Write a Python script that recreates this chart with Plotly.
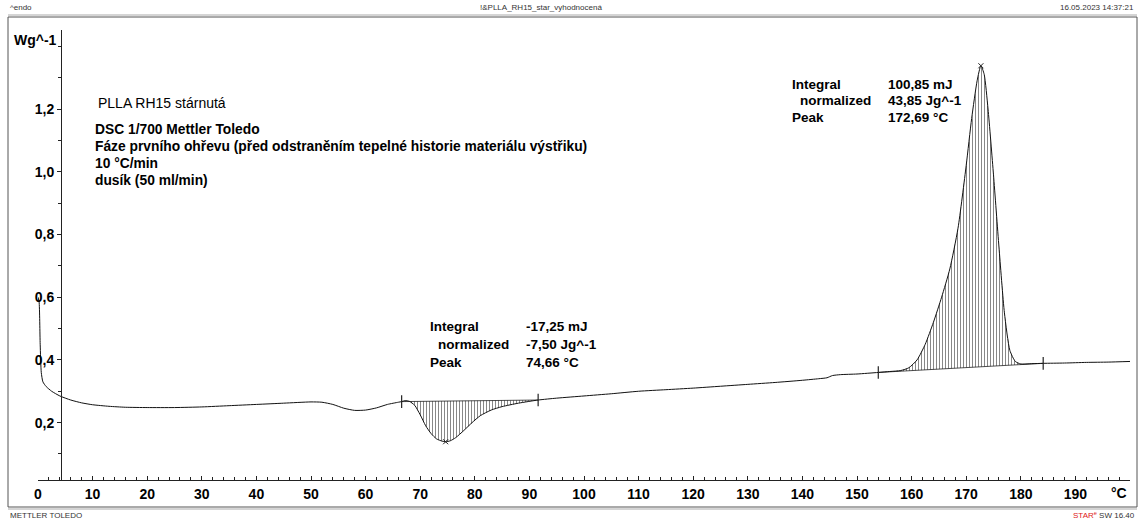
import numpy as np
import plotly.graph_objects as go

# ---------------- data ----------------
temp = [0.0, 0.2, 0.4, 0.6, 0.9, 1.5, 2.5, 4.0, 6.0, 8.0, 10.0, 13.0, 16.0, 20.0, 25.0,
        30.0, 35.0, 40.0, 45.0, 50.0, 52.0, 54.0, 56.0, 58.0, 60.0, 62.0, 64.0, 66.0,
        66.6, 67.2, 68.0, 69.0, 70.0, 71.0, 72.0, 73.0, 74.0, 74.66, 75.5, 76.5, 78.0,
        79.5, 81.0, 83.0, 85.0, 88.0, 91.6, 95.0, 100.0, 105.0, 110.0, 115.0, 120.0,
        125.0, 130.0, 135.0, 140.0, 143.0, 144.5, 145.5, 147.0, 150.0, 153.9, 156.0,
        158.0, 159.5, 161.0, 162.5, 164.0, 165.5, 167.0, 168.5, 170.0, 171.0, 172.0,
        172.69, 173.3, 174.0, 175.0, 176.0, 177.0, 178.0, 179.0, 180.0, 182.0, 184.1,
        188.0, 192.0, 196.0, 200.0]
heat = [0.600, 0.585, 0.450, 0.360, 0.330, 0.315, 0.300, 0.285, 0.272, 0.263, 0.257,
        0.252, 0.249, 0.248, 0.248, 0.250, 0.254, 0.258, 0.262, 0.266, 0.265, 0.258,
        0.246, 0.239, 0.240, 0.247, 0.258, 0.265, 0.267, 0.270, 0.268, 0.255, 0.225,
        0.190, 0.165, 0.148, 0.141, 0.139, 0.142, 0.152, 0.175, 0.200, 0.222, 0.240,
        0.251, 0.262, 0.272, 0.278, 0.285, 0.292, 0.300, 0.305, 0.310, 0.316, 0.322,
        0.328, 0.335, 0.340, 0.343, 0.350, 0.353, 0.355, 0.360, 0.363, 0.366, 0.375,
        0.400, 0.450, 0.520, 0.600, 0.690, 0.820, 1.020, 1.170, 1.290, 1.338, 1.310,
        1.200, 0.990, 0.760, 0.550, 0.430, 0.395, 0.387, 0.388, 0.389, 0.390, 0.392,
        0.393, 0.395]

base1_x = [66.6, 91.6]
base1_y = [0.267, 0.272]
base2_x = [153.9, 184.1]
base2_y = [0.360, 0.389]
peak_x = [74.66, 172.69]
peak_y = [0.139, 1.338]

x_ticks = list(range(0, 200, 10))
y_ticks = [0.2, 0.4, 0.6, 0.8, 1.0, 1.2]
y_ticktext = ["0,2", "0,4", "0,6", "0,8", "1,0", "1,2"]

info_lines = ["DSC 1/700 Mettler Toledo",
              "Fáze prvního ohřevu (před odstraněním tepelné historie materiálu výstřiku)",
              "10 °C/min",
              "dusík (50 ml/min)"]
peak1_labels = ["Integral", "normalized", "Peak"]
peak1_values = ["-17,25 mJ", "-7,50 Jg^-1", "74,66 °C"]
peak2_values = ["100,85 mJ", "43,85 Jg^-1", "172,69 °C"]

# ---------------- layout geometry ----------------
W, H = 1143, 522
L, R, T, B = 38, 13, 30, 42
PW, PH = W - L - R, H - T - B
FONT = "Liberation Sans, Arial, sans-serif"


def px(x):
    return (x - L) / PW


def py(y):
    return (H - B - y) / PH


t = np.array(temp)
h = np.array(heat)

fig = go.Figure()

# hatched areas (baseline first, then curve segment filled to it)
for bx, by in ((base1_x, base1_y), (base2_x, base2_y)):
    m = (t >= bx[0]) & (t <= bx[1])
    fig.add_trace(go.Scatter(x=bx, y=by, mode="lines",
                             line=dict(color="#222", width=0.8), hoverinfo="skip"))
    fig.add_trace(go.Scatter(x=t[m], y=h[m], mode="lines", fill="tonexty",
                             line=dict(color="rgba(0,0,0,0)", width=0),
                             fillcolor="rgba(0,0,0,0)",
                             fillpattern=dict(shape="|", size=3, solidity=0.35,
                                              fgcolor="#111", bgcolor="rgba(0,0,0,0)"),
                             hoverinfo="skip"))

# main curve
fig.add_trace(go.Scatter(x=temp, y=heat, mode="lines",
                         line=dict(color="#111", width=1, shape="spline", smoothing=0.6)))

# baseline limit markers
fig.add_trace(go.Scatter(x=base1_x + base2_x, y=base1_y + base2_y, mode="markers",
                         marker=dict(symbol="line-ns-open", size=9, color="#222",
                                     line=dict(color="#222", width=1.2))))
# peak markers
fig.add_trace(go.Scatter(x=peak_x, y=peak_y, mode="markers",
                         marker=dict(symbol="x-thin-open", size=5, color="#222",
                                     line=dict(color="#222", width=1))))

ann = []


def text(x, y, s, size=13, bold=True, anchor="left", color="#000"):
    ann.append(dict(x=px(x), y=py(y), xref="paper", yref="paper", text=f"<b>{s}</b>" if bold else s,
                    showarrow=False, xanchor=anchor, yanchor="middle",
                    font=dict(family=FONT, size=size, color=color)))


# header / footer
text(8, 8, "^endo", size=8, bold=False, color="#333")
text(541, 8, "!&PLLA_RH15_star_vyhodnocená", size=8, bold=False, anchor="center", color="#333")
text(1136, 8, "16.05.2023 14:37:21", size=8, bold=False, anchor="right", color="#333")
text(8, 515, "METTLER TOLEDO", size=8, bold=False, color="#333")
text(1137, 515, '<span style="color:#e02020">STAR</span><sup><span style="color:#e02020">e</span></sup> SW 16.40',
     size=8, bold=False, anchor="right", color="#333")

# unit labels
text(12, 40, "Wg^-1", size=14)
text(1129, 493, "°C", size=14, anchor="right")

# info block
text(96, 103, "PLLA RH15 stárnutá", size=14, bold=False, color="#000")
for i, s in enumerate(info_lines):
    text(93, 129 + i * 17, s, size=13.8)

# peak evaluations
for i, (lab, val) in enumerate(zip(peak1_labels, peak1_values)):
    text(428 + (8 if i == 1 else 0), 327 + i * 17.5, lab, size=13.5)
    text(524, 327 + i * 17.5, val, size=13.5)
for i, (lab, val) in enumerate(zip(peak1_labels, peak2_values)):
    text(790 + (8 if i == 1 else 0), 84 + i * 16.5, lab, size=13.5)
    text(886, 84 + i * 16.5, val, size=13.5)

# frame shapes
shapes = [
    dict(type="line", xref="paper", yref="paper", x0=px(8), x1=px(1137), y0=py(15), y1=py(15),
         line=dict(color="#aaa", width=1)),
    dict(type="line", xref="paper", yref="paper", x0=px(8), x1=px(1137), y0=py(17), y1=py(17),
         line=dict(color="#555", width=1)),
    dict(type="line", xref="paper", yref="paper", x0=px(8), x1=px(8), y0=py(17), y1=py(507),
         line=dict(color="#555", width=1)),
    dict(type="line", xref="paper", yref="paper", x0=px(1137), x1=px(1137), y0=py(17), y1=py(507),
         line=dict(color="#555", width=1)),
    dict(type="line", xref="paper", yref="paper", x0=px(8), x1=px(1137), y0=py(507), y1=py(507),
         line=dict(color="#555", width=1)),
    dict(type="line", xref="paper", yref="paper", x0=px(8), x1=px(1137), y0=py(509), y1=py(509),
         line=dict(color="#aaa", width=1)),
]

fig.update_layout(
    width=W, height=H,
    margin=dict(l=L, r=R, t=T, b=B, pad=0),
    paper_bgcolor="white", plot_bgcolor="white",
    showlegend=False,
    annotations=ann, shapes=shapes,
    xaxis=dict(range=[0, 200], showgrid=False, zeroline=False,
               showline=True, linecolor="#222", linewidth=1,
               tickmode="array", tickvals=x_ticks,
               ticktext=[str(v) for v in x_ticks],
               ticks="inside", ticklen=4, tickcolor="#222", tickwidth=1,
               minor=dict(dtick=2, tick0=0, ticks="inside", ticklen=3, tickcolor="#222"),
               tickfont=dict(family=FONT, size=14, color="#000", weight="bold"),
               ticklabelstandoff=1,
               anchor="y"),
    yaxis=dict(range=[0.017, 1.452], showgrid=False, zeroline=False,
               showline=True, linecolor="#222", linewidth=1,
               anchor="free", position=px(61),
               tickmode="array", tickvals=y_ticks, ticktext=y_ticktext,
               ticks="outside", ticklen=4, tickcolor="#222", tickwidth=1,
               minor=dict(dtick=0.1, tick0=0, ticks="outside", ticklen=3, tickcolor="#222"),
               tickfont=dict(family=FONT, size=14, color="#000", weight="bold")),
)

fig.write_html("out.html", config={"displayModeBar": False},
               post_script="document.body.style.margin='0';document.body.style.padding='0';")
